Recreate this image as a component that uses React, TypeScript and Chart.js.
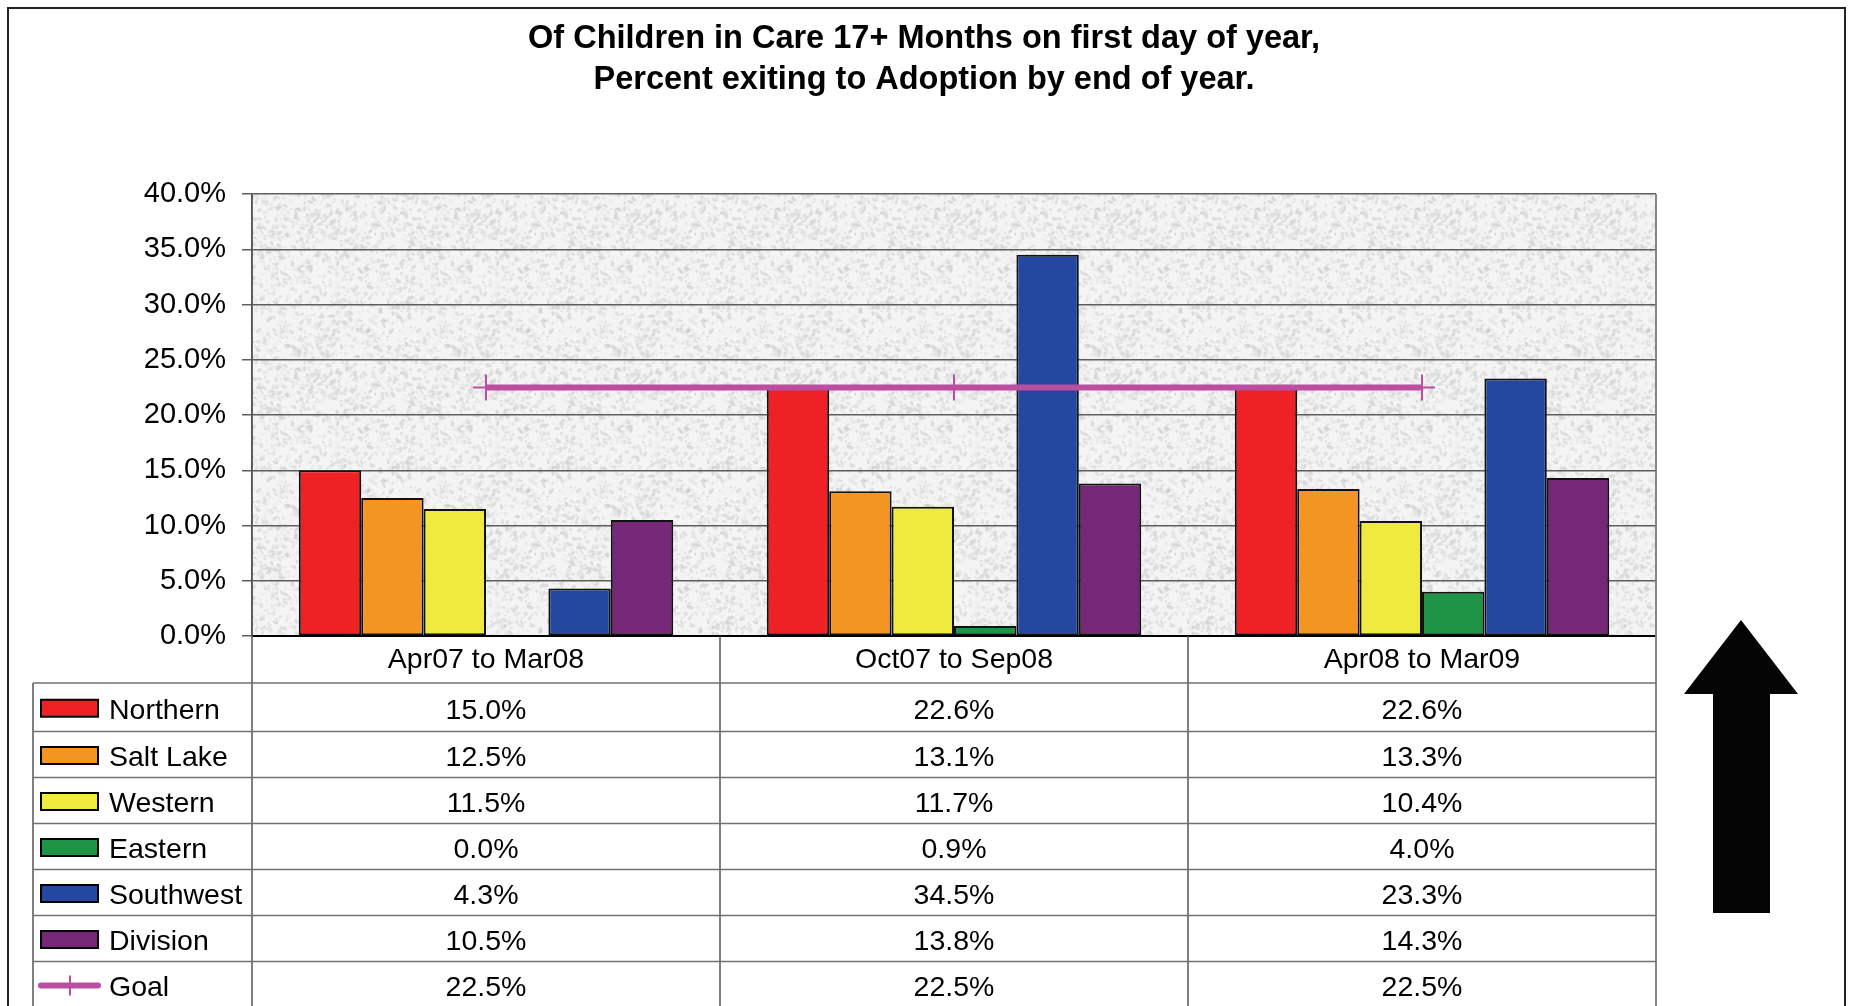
import React, { useEffect, useRef } from 'react';
import { Chart, registerables } from 'chart.js';

Chart.register(...registerables);

// ---------- data ----------
const categories = ['Apr07 to Mar08', 'Oct07 to Sep08', 'Apr08 to Mar09'];
const seriesNames = ['Northern', 'Salt Lake', 'Western', 'Eastern', 'Southwest', 'Division'];
const northern = [15.0, 22.6, 22.6];
const saltLake = [12.5, 13.1, 13.3];
const western = [11.5, 11.7, 10.4];
const eastern = [0.0, 0.9, 4.0];
const southwest = [4.3, 34.5, 23.3];
const division = [10.5, 13.8, 14.3];
const goalName = 'Goal';
const goal = [22.5, 22.5, 22.5];
const yMin = 0;
const yMax = 40;
const yStep = 5;
const titleLines = ['Of Children in Care 17+ Months on first day of year,', 'Percent exiting to Adoption by end of year.'];

// ---------- styles ----------
const seriesColors = ['#EE2225', '#F39621', '#EEEA3E', '#1F9446', '#2447A0', '#762777'];
const goalColor = '#BA4FA2';
const FONT = '"Liberation Sans", Arial, Helvetica, sans-serif';

const W = 1851;
const H = 1006;

function makeTexture(ctx: CanvasRenderingContext2D): CanvasPattern | string {
  const S = 160;
  const c = document.createElement('canvas');
  c.width = S;
  c.height = S;
  const g = c.getContext('2d');
  if (!g) return '#ededed';
  g.fillStyle = '#f4f4f4';
  g.fillRect(0, 0, S, S);
  const hash = (n: number) => {
    const x = Math.sin(n * 127.1 + 311.7) * 43758.5453;
    return x - Math.floor(x);
  };
  for (let i = 0; i < 1300; i++) {
    const x = hash(i) * S;
    const y = hash(i + 1000) * S;
    const r = 0.5 + hash(i + 2000) * 1.4;
    const shade = 200 + Math.floor(hash(i + 3000) * 35);
    g.fillStyle = `rgba(${shade},${shade},${shade},0.6)`;
    const rot = hash(i + 4000) * Math.PI;
    for (const dx of [-S, 0, S]) {
      for (const dy of [-S, 0, S]) {
        g.beginPath();
        g.ellipse(x + dx, y + dy, r * 1.7, r, rot, 0, Math.PI * 2);
        g.fill();
      }
    }
  }
  return ctx.createPattern(c, 'repeat') || '#ededed';
}

const decorPlugin = {
  id: 'decor',
  beforeDraw(chart: any) {
    const ctx: CanvasRenderingContext2D = chart.ctx;
    const a = chart.chartArea;
    ctx.save();
    ctx.fillStyle = '#ffffff';
    ctx.fillRect(0, 0, W, H);
    ctx.fillStyle = makeTexture(ctx) as any;
    ctx.fillRect(a.left, a.top, a.right - a.left, a.bottom - a.top);
    ctx.restore();
  },
  afterDraw(chart: any) {
    const ctx: CanvasRenderingContext2D = chart.ctx;
    const a = chart.chartArea;
    const xs = chart.scales.x;
    const n = categories.length;
    const colW = (a.right - a.left) / n;
    ctx.save();

    // plot bottom axis line
    ctx.strokeStyle = '#000';
    ctx.lineWidth = 2;
    ctx.beginPath();
    ctx.moveTo(a.left, a.bottom);
    ctx.lineTo(a.right, a.bottom);
    ctx.stroke();

    // table geometry
    const tableTop = 683;
    const legendLeft = 33;
    const rowLines = [tableTop];
    for (let i = 1; i <= 7; i++) rowLines.push(685.5 + 46 * i);

    // vertical table lines
    ctx.strokeStyle = '#555';
    ctx.lineWidth = 1.5;
    for (let i = 0; i <= n; i++) {
      const x = a.left + i * colW;
      ctx.beginPath();
      ctx.moveTo(x, i === 0 || i === n ? a.top : a.bottom);
      ctx.lineTo(x, H);
      ctx.stroke();
    }
    // right plot border (gray)
    ctx.strokeStyle = '#888';
    ctx.beginPath();
    ctx.moveTo(a.right, a.top);
    ctx.lineTo(a.right, H);
    ctx.stroke();
    // legend column left border
    ctx.strokeStyle = '#555';
    ctx.beginPath();
    ctx.moveTo(legendLeft, tableTop);
    ctx.lineTo(legendLeft, H);
    ctx.stroke();
    // horizontal row lines
    ctx.strokeStyle = '#707070';
    for (let i = 0; i < rowLines.length; i++) {
      ctx.beginPath();
      ctx.moveTo(legendLeft, rowLines[i]);
      ctx.lineTo(a.right, rowLines[i]);
      ctx.stroke();
    }

    // category labels
    ctx.fillStyle = '#000';
    ctx.font = `28.5px ${FONT}`;
    ctx.textAlign = 'center';
    ctx.textBaseline = 'middle';
    categories.forEach((c, i) => {
      const cx = xs.getPixelForValue(i);
      ctx.fillText(c, cx, (a.bottom + tableTop) / 2 + 1);
    });

    // rows
    const allSeries = [northern, saltLake, western, eastern, southwest, division, goal];
    const allNames = [...seriesNames, goalName];
    allSeries.forEach((vals, r) => {
      const top = rowLines[r];
      const bottom = r + 1 < rowLines.length ? rowLines[r + 1] : top + 46;
      const cy = (top + bottom) / 2 + 1;
      const ty = cy + 2.5;
      // legend key
      if (r < seriesNames.length) {
        ctx.fillStyle = seriesColors[r];
        ctx.fillRect(41, cy - 8.5, 57, 17);
        ctx.strokeStyle = '#000';
        ctx.lineWidth = 2;
        ctx.strokeRect(41, cy - 8.5, 57, 17);
      } else {
        ctx.strokeStyle = goalColor;
        ctx.lineCap = 'round';
        ctx.lineWidth = 6;
        ctx.beginPath();
        ctx.moveTo(41, cy);
        ctx.lineTo(98, cy);
        ctx.stroke();
        ctx.lineCap = 'butt';
        ctx.lineWidth = 2;
        ctx.beginPath();
        ctx.moveTo(70, cy - 10);
        ctx.lineTo(70, cy + 10);
        ctx.stroke();
      }
      ctx.fillStyle = '#000';
      ctx.textAlign = 'left';
      ctx.fillText(allNames[r], 109, ty);
      ctx.textAlign = 'center';
      vals.forEach((v, i) => {
        ctx.fillText(v.toFixed(1) + '%', xs.getPixelForValue(i), ty);
      });
    });

    // title
    ctx.font = `bold 32.5px ${FONT}`;
    ctx.textAlign = 'center';
    ctx.textBaseline = 'middle';
    ctx.fillText(titleLines[0], 924, 39);
    ctx.fillText(titleLines[1], 924, 80);

    // outer frame
    ctx.strokeStyle = '#222';
    ctx.lineWidth = 2;
    ctx.strokeRect(8, 8, 1837, H + 20);

    // arrow
    ctx.fillStyle = '#050505';
    ctx.beginPath();
    ctx.moveTo(1741, 620);
    ctx.lineTo(1798, 694);
    ctx.lineTo(1770, 694);
    ctx.lineTo(1770, 913);
    ctx.lineTo(1713, 913);
    ctx.lineTo(1713, 694);
    ctx.lineTo(1684, 694);
    ctx.closePath();
    ctx.fill();

    ctx.restore();
  },
};

export default function App() {
  const ref = useRef<HTMLCanvasElement | null>(null);
  useEffect(() => {
    if (!ref.current) return;
    const barSets = [northern, saltLake, western, eastern, southwest, division].map((d, i) => ({
      type: 'bar' as const,
      label: seriesNames[i],
      data: d,
      backgroundColor: seriesColors[i],
      borderColor: '#111',
      borderWidth: 2,
      borderSkipped: false as any,
      categoryPercentage: 0.8,
      barPercentage: 1,
      order: 1,
    }));
    const chart = new Chart(ref.current, {
      type: 'bar',
      data: {
        labels: categories,
        datasets: [
          {
            type: 'line' as const,
            label: goalName,
            data: goal,
            borderColor: goalColor,
            borderWidth: 6,
            pointStyle: 'cross',
            pointRadius: 13,
            pointBorderWidth: 2,
            pointBorderColor: goalColor,
            pointBackgroundColor: goalColor,
            fill: false,
            tension: 0,
            order: 0,
          } as any,
          ...barSets,
        ],
      },
      options: {
        responsive: false,
        animation: false,
        layout: { padding: { left: 0, top: 194, right: 195, bottom: 370 } },
        plugins: {
          legend: { display: false },
          tooltip: { enabled: false },
          title: { display: false },
        },
        scales: {
          x: { display: false, offset: true, grid: { display: false } },
          y: {
            min: yMin,
            max: yMax,
            ticks: {
              stepSize: yStep,
              color: '#000',
              padding: 16,
              font: { size: 29, family: FONT },
              callback: (v: any) => Number(v).toFixed(1) + '%',
            },
            grid: { color: '#5e5e5e', lineWidth: 1.5, tickLength: 10, drawTicks: true },
            border: { display: true, color: '#555', width: 1.5 },
            afterFit: (s: any) => {
              s.width = 252;
            },
          },
        },
      } as any,
      plugins: [decorPlugin],
    });
    return () => chart.destroy();
  }, []);
  return (
    <div style={{ position: 'absolute', left: 0, top: 0, width: W, height: H, background: '#fff' }}>
      <canvas ref={ref} width={W} height={H} style={{ display: 'block', width: W, height: H }} />
    </div>
  );
}
